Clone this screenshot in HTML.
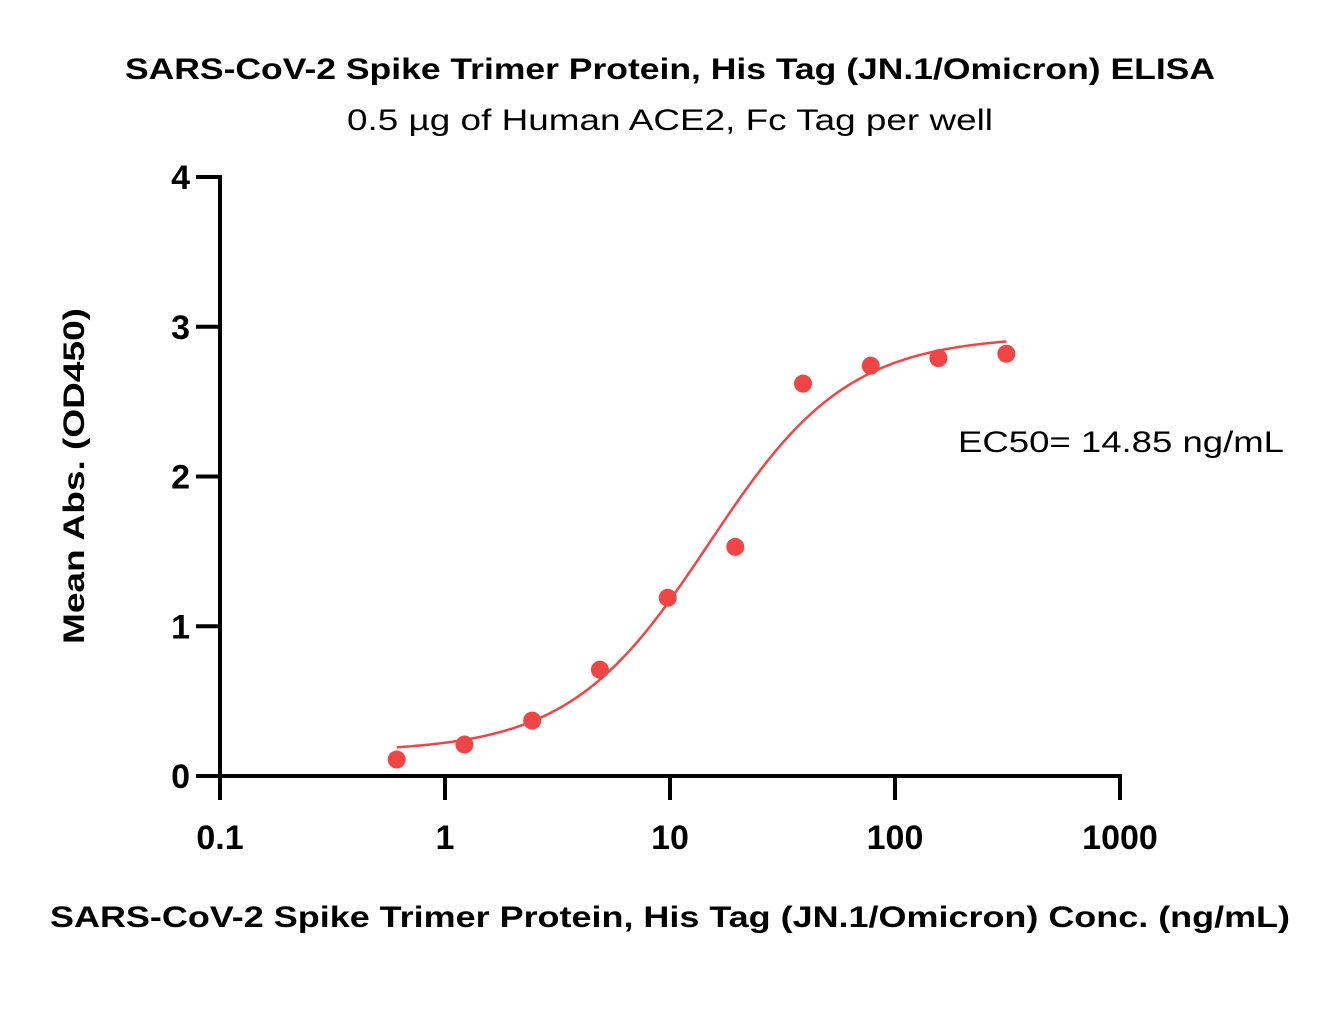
<!DOCTYPE html>
<html><head><meta charset="utf-8"><style>
html,body{margin:0;padding:0;background:#fff;}
svg{display:block;font-family:"Liberation Sans",sans-serif;}
</style></head><body>
<svg id="chart" width="1334" height="1032" viewBox="0 0 1334 1032">
<text x="670" y="79" text-anchor="middle" font-size="30" font-weight="bold" textLength="1090" lengthAdjust="spacingAndGlyphs">SARS-CoV-2 Spike Trimer Protein, His Tag (JN.1/Omicron) ELISA</text>
<text x="670" y="130" text-anchor="middle" font-size="30" textLength="646" lengthAdjust="spacingAndGlyphs">0.5 µg of Human ACE2, Fc Tag per well</text>
<g id="axes"></g>
<g id="marks"></g>
<text x="958" y="452" font-size="30" textLength="326" lengthAdjust="spacingAndGlyphs">EC50= 14.85 ng/mL</text>
<text x="670" y="927" text-anchor="middle" font-size="30" font-weight="bold" textLength="1240" lengthAdjust="spacingAndGlyphs">SARS-CoV-2 Spike Trimer Protein, His Tag (JN.1/Omicron) Conc. (ng/mL)</text>
<text transform="translate(84,476) rotate(-90)" text-anchor="middle" font-size="30" font-weight="bold" textLength="336" lengthAdjust="spacingAndGlyphs">Mean Abs. (OD450)</text>
</svg>
<script>
const concentrations = [0.61, 1.22, 2.44, 4.88, 9.77, 19.5, 39, 78, 156, 312.5];
const absorbance = [0.11, 0.21, 0.37, 0.71, 1.19, 1.53, 2.62, 2.74, 2.79, 2.82];
const xTicks = [0.1, 1, 10, 100, 1000];
const xTickLabels = ["0.1", "1", "10", "100", "1000"];
const yTicks = [0, 1, 2, 3, 4];
const yTickLabels = ["0", "1", "2", "3", "4"];
const fitBottom = 0.16, fitTop = 2.94, fitEC50 = 14.85, fitHill = 1.4;

const NS = "http://www.w3.org/2000/svg";
const X0 = 220, X1 = 1120, Y0 = 776, Y1 = 177;
function xScale(v){ return X0 + (Math.log10(v) - Math.log10(0.1)) / 4 * (X1 - X0); }
function yScale(v){ return Y0 - v / 4 * (Y0 - Y1); }
function mk(tag, attrs, parent){ const e = document.createElementNS(NS, tag); for (const k in attrs) e.setAttribute(k, attrs[k]); parent.appendChild(e); return e; }

const axes = document.getElementById("axes");
const marks = document.getElementById("marks");
let e = mk("line", {x1: X0, y1: Y0, x2: X1 + 2, y2: Y0, stroke: "#000", "stroke-width": 4}, axes);


e = mk("line", {x1: X0, y1: Y1 - 2, x2: X0, y2: Y0 + 2, stroke: "#000", "stroke-width": 4}, axes);


xTicks.forEach((t, i) => {
  const x = xScale(t);
  const tk = mk("line", {x1: x, y1: Y0, x2: x, y2: Y0 + 24, stroke: "#000", "stroke-width": 4}, axes);
  
  
  const lb = mk("text", {x: x, y: 849, "text-anchor": "middle", "font-size": 34, "font-weight": "bold"}, axes);
  lb.textContent = xTickLabels[i];
  
  
});
yTicks.forEach((t, i) => {
  const y = yScale(t);
  const tk = mk("line", {x1: X0 - 24, y1: y, x2: X0, y2: y, stroke: "#000", "stroke-width": 4}, axes);
  
  
  const lb = mk("text", {x: 190, y: y + 12, "text-anchor": "end", "font-size": 34, "font-weight": "bold"}, axes);
  lb.textContent = yTickLabels[i];
  
  
});
function fit(c){ const r = Math.pow(c / fitEC50, fitHill); return fitBottom + (fitTop - fitBottom) * r / (1 + r); }
let d = "";
const lo = Math.log10(concentrations[0]), hi = Math.log10(concentrations[concentrations.length - 1]);
for (let i = 0; i <= 200; i++) {
  const c = Math.pow(10, lo + (hi - lo) * i / 200);
  d += (i ? "L" : "M") + xScale(c).toFixed(2) + "," + yScale(fit(c)).toFixed(2);
}
const curve = mk("path", {d: d, fill: "none", stroke: "#f04545", "stroke-width": 2.5}, marks);


concentrations.forEach((c, i) => {
  const p = mk("circle", {cx: xScale(c), cy: yScale(absorbance[i]), r: 9, fill: "#f04545"}, marks);
  
  
});
</script>
</body></html>
